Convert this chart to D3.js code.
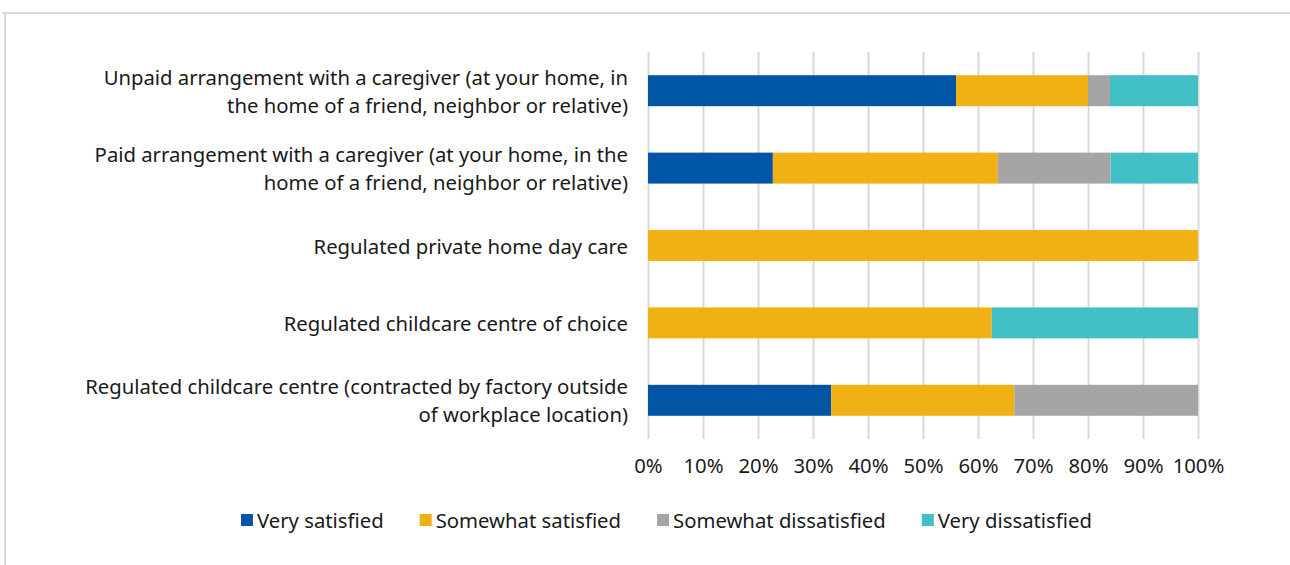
<!DOCTYPE html>
<html>
<head>
<meta charset="utf-8">
<script src="https://cdn.jsdelivr.net/npm/d3@7"></script>
<style>
  html, body { margin: 0; padding: 0; background: #ffffff; }
  svg { display: block; font-family: "Noto Sans", "Open Sans", sans-serif; }
</style>
</head>
<body>
<svg id="chart" width="1290" height="565"></svg>
<script>
// Childcare arrangement satisfaction, share of respondents (%)
const categories = [
  ["Unpaid arrangement with a caregiver (at your home, in", "the home of a friend, neighbor or relative)"],
  ["Paid arrangement with a caregiver (at your home, in the", "home of a friend, neighbor or relative)"],
  ["Regulated private home day care"],
  ["Regulated childcare centre of choice"],
  ["Regulated childcare centre (contracted by factory outside", "of workplace location)"]
];
const seriesNames = ["Very satisfied", "Somewhat satisfied", "Somewhat dissatisfied", "Very dissatisfied"];
const verySatisfied        = [56, 22.7, 0, 0, 33.3];
const somewhatSatisfied    = [24, 40.9, 100, 62.5, 33.3];
const somewhatDissatisfied = [4, 20.5, 0, 0, 33.4];
const veryDissatisfied     = [16, 15.9, 0, 37.5, 0];
const tickValues = [0, 10, 20, 30, 40, 50, 60, 70, 80, 90, 100];
const colors = ["#0055a5", "#f0b114", "#a5a5a5", "#42c0c6"];

const svg = d3.select("#chart");
const fontSize = 20.3;

// outer frame (top and left edges)
svg.append("line").attr("x1", 2).attr("x2", 1290).attr("y1", 13).attr("y2", 13)
  .attr("stroke", "#d9d9d9").attr("stroke-width", 2);
svg.append("line").attr("x1", 5).attr("x2", 5).attr("y1", 12).attr("y2", 565)
  .attr("stroke", "#d9d9d9").attr("stroke-width", 2);

const x = d3.scaleLinear().domain([0, 100]).range([648, 1198]);
const y = d3.scaleBand().domain(d3.range(categories.length)).range([52, 439])
  .paddingInner(0.6).paddingOuter(0.3);

// vertical gridlines
const grid = svg.append("g")
  .attr("transform", `translate(0,439)`)
  .call(d3.axisBottom(x).tickValues(tickValues).tickSize(-(439 - 52)).tickFormat(""));
grid.select(".domain").remove();
grid.selectAll(".tick line").attr("stroke", "#d9d9d9").attr("stroke-width", 2);

// tick labels
const axis = svg.append("g")
  .attr("transform", `translate(0,439)`)
  .call(d3.axisBottom(x).tickValues(tickValues).tickSize(0).tickPadding(20).tickFormat(d => d + "%"));
axis.select(".domain").remove();
axis.selectAll("text").attr("font-size", fontSize).attr("fill", "#1a1a1a")
  .attr("font-family", "'Noto Sans', sans-serif");

// stacked bars
const table = categories.map((c, i) => ({
  idx: i,
  [seriesNames[0]]: verySatisfied[i],
  [seriesNames[1]]: somewhatSatisfied[i],
  [seriesNames[2]]: somewhatDissatisfied[i],
  [seriesNames[3]]: veryDissatisfied[i]
}));
const stacked = d3.stack().keys(seriesNames)(table);

svg.append("g").selectAll("g").data(stacked).join("g")
  .attr("fill", (d, i) => colors[i])
  .selectAll("rect").data(d => d.filter(p => p[1] - p[0] > 0)).join("rect")
  .attr("x", p => x(p[0]))
  .attr("width", p => x(p[1]) - x(p[0]))
  .attr("y", p => y(p.data.idx))
  .attr("height", y.bandwidth());

// category labels
const lineH = 28;
const labels = svg.append("g").attr("font-size", fontSize).attr("fill", "#1a1a1a").attr("text-anchor", "end");
categories.forEach((lines, i) => {
  const cy = y(i) + y.bandwidth() / 2;
  const t = labels.append("text").attr("x", 628).attr("y", cy - (lines.length - 1) * lineH / 2)
    .attr("dominant-baseline", "central");
  lines.forEach((ln, k) => {
    t.append("tspan").attr("x", 628).attr("dy", k === 0 ? 0 : lineH).text(ln);
  });
});

// legend
const legend = svg.append("g").attr("font-size", fontSize).attr("fill", "#1a1a1a");
let lx = 241;
seriesNames.forEach((name, i) => {
  const g = legend.append("g").attr("transform", `translate(${lx},520)`);
  g.append("rect").attr("x", 0).attr("y", -6).attr("width", 12).attr("height", 12).attr("fill", colors[i]);
  const tx = g.append("text").attr("x", 16).attr("y", 0).attr("dominant-baseline", "central").text(name);
  lx += 16 + tx.node().getComputedTextLength() + 36;
});
</script>
</body>
</html>
